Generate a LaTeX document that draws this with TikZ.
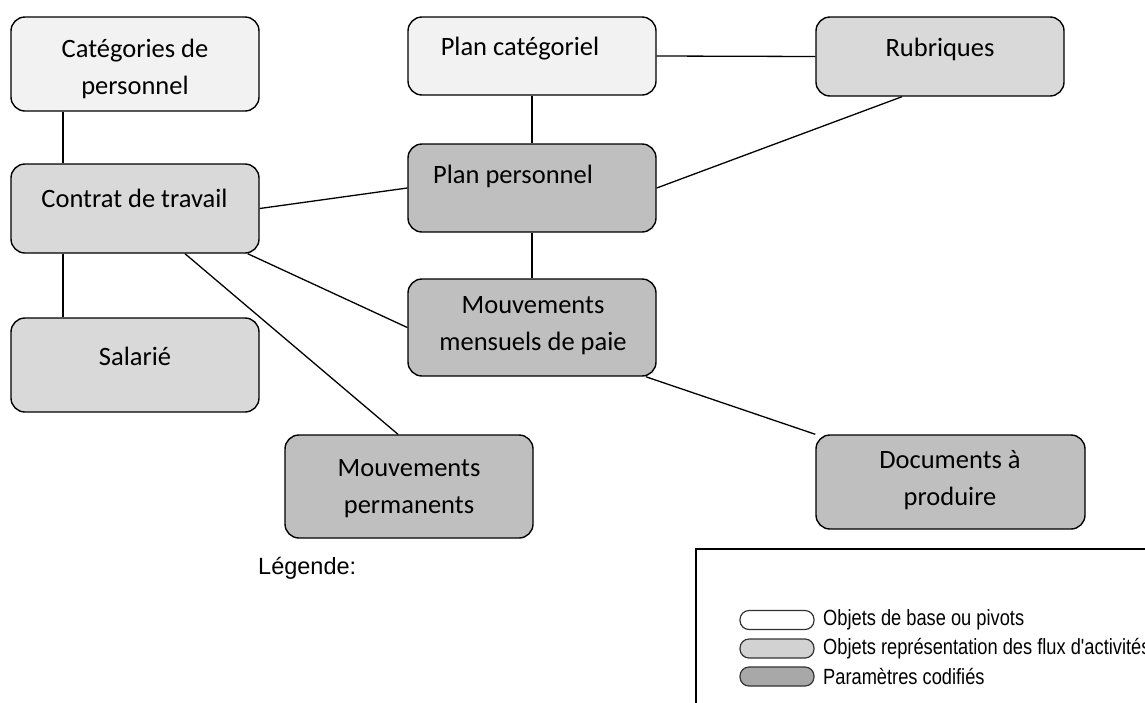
\documentclass[tikz,border=0pt]{standalone}
\usepackage{fontspec}
\setmainfont{Carlito}
\newfontfamily\legfont{Liberation Sans}
\newfontfamily\legnarrow[FakeStretch=0.83]{Liberation Sans}
\usetikzlibrary{calc}
\definecolor{lightfill}{HTML}{F2F2F2}
\definecolor{midfill}{HTML}{D9D9D9}
\definecolor{darkfill}{HTML}{BFBFBF}
\definecolor{legmid}{HTML}{D2D2D2}
\definecolor{legdark}{HTML}{A8A8A8}
\tikzset{
  box/.style={draw=black, line width=1.4pt, rounded corners=14pt, rectangle, inner sep=0pt},
  txt/.style={inner sep=0pt, align=center, font=\fontsize{26.5}{37}\selectfont},
  link/.style={draw=black, line width=1.3pt},
  legshape/.style={draw=black!80, line width=1.2pt, rounded corners=9pt, rectangle, minimum width=74pt, minimum height=19pt, inner sep=0pt},
  legtxt/.style={inner sep=0pt, anchor=west, font=\legnarrow\fontsize{22}{24}\selectfont}
}
\begin{document}
\begin{tikzpicture}[x=1pt,y=-1pt]
\useasboundingbox (0,0) rectangle (1145,702);
\clip (0,0) rectangle (1145,702);
\fill[white] (0,0) rectangle (1145,702);

% boxes
\node[box, fill=lightfill, minimum width=248pt, minimum height=94pt] (cat) at (135,64) {};
\node[box, fill=lightfill, minimum width=248pt, minimum height=78pt] (plancat) at (532,56) {};
\node[box, fill=midfill, minimum width=248pt, minimum height=79pt] (rub) at (940,56.5) {};
\node[box, fill=midfill, minimum width=248pt, minimum height=89pt] (contrat) at (135,208.5) {};
\node[box, fill=darkfill, minimum width=248pt, minimum height=88pt] (planpers) at (532,188) {};
\node[box, fill=darkfill, minimum width=248pt, minimum height=97pt] (mmens) at (532,327.5) {};
\node[box, fill=midfill, minimum width=248pt, minimum height=94pt] (salarie) at (135,365) {};
\node[box, fill=darkfill, minimum width=248pt, minimum height=103pt] (mperm) at (409,486.5) {};
\node[box, fill=darkfill, minimum width=269pt, minimum height=94pt] (docs) at (950.5,482) {};

% texts
\node[txt] (cat-t) at (135,68.5) {Catégories de\\personnel};
\node[txt] (plancat-t) at (520,49) {Plan catégoriel};
\node[txt] (rub-t) at (940,49) {Rubriques};
\node[txt] (contrat-t) at (134.5,198) {Contrat de travail};
\node[txt, anchor=west] (planpers-t) at (433,176) {Plan personnel};
\node[txt] (mmens-t) at (533,326) {Mouvements\\mensuels de paie};
\node[txt] (salarie-t) at (135,356) {Salarié};
\node[txt] (mperm-t) at (409,489) {Mouvements\\permanents};
\node[txt] (docs-t) at (950,480) {Documents à\\produire};

% connectors
\draw[link] ($(cat.south)+(-72,0)$) -- ($(contrat.north)+(-72,0)$);
\draw[link] ($(contrat.south)+(-72,0)$) -- ($(salarie.north)+(-72,0)$);
\draw[link] (contrat.east) -- (planpers.west);
\draw[link] ($(contrat.south east)+(-12,0)$) -- (mmens.west);
\draw[link] ($(contrat.south)+(50,0)$) -- ($(mperm.north)+(-11,0)$);
\draw[link] (plancat.south) -- (planpers.north);
\draw[link] (plancat.east) -- (rub.west);
\draw[link] (planpers.east) -- ($(rub.south)+(-38,0)$);
\draw[link] (planpers.south) -- (mmens.north);
\draw[link] ($(mmens.south east)+(-11,0)$) -- (docs.north west);

% legend
\node[inner sep=0pt, anchor=west, font=\legfont\fontsize{23.5}{26}\selectfont] (legtitle) at (258,568) {Légende:};
\draw[line width=2pt] (1160,549) -- (696,549) -- (696,720);
\node[legshape, fill=white] (leg1) at (777,620) {};
\node[legshape, fill=legmid] (leg2) at (777,648.5) {};
\node[legshape, fill=legdark] (leg3) at (777,676.5) {};
\node[legtxt] (leg1-t) at (823,620) {Objets de base ou pivots};
\node[legtxt] (leg2-t) at (823,648.5) {Objets représentation des flux d'activités};
\node[legtxt] (leg3-t) at (823,676.5) {Paramètres codifiés};
\end{tikzpicture}
\end{document}
